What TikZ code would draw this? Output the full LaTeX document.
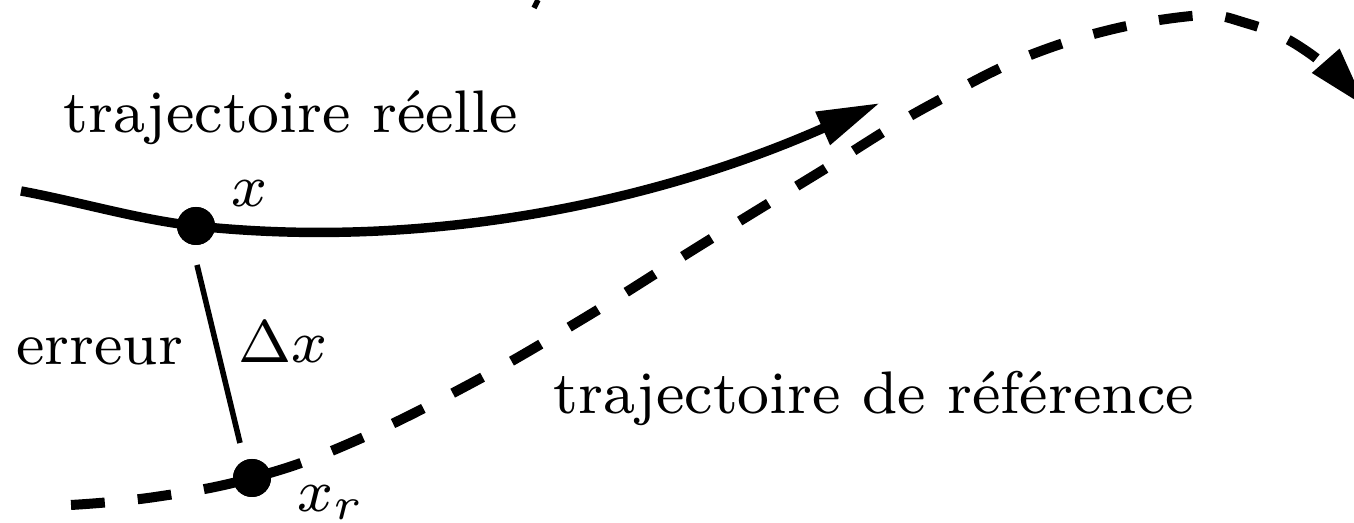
\documentclass[tikz,border=0pt]{standalone}
\usetikzlibrary{arrows.meta}
\begin{document}
\begin{tikzpicture}[x=0.18pt,y=-0.18pt,
  lbl/.style={anchor=base west,inner sep=0pt,scale=1.352,transform shape,font=\fontsize{8}{9.6}\selectfont},
  dotnode/.style={circle,fill=black,inner sep=0pt,minimum size=6.84pt},
  tipstyle/.style={-{Triangle[length=11.3pt,width=6.1pt]}},
  realcurve/.style={line width=1.7pt,line cap=butt},
  refcurve/.style={line width=1.8pt,line cap=butt,dash pattern=on 6.1pt off 5.95pt},
  errline/.style={line width=1.0pt}]
\useasboundingbox (0,0) rectangle (1354,523);
\clip (0,0) rectangle (1354,523);
% points
\node[dotnode] (px) at (196,226) {};
\node[dotnode] (pr) at (252,478) {};
\coordinate (rs) at (21,191);
\coordinate (rt) at (880,103);
% real trajectory
\draw[realcurve,tipstyle] (rs) .. controls (80,202) and (140,220) .. (px.center)
  .. controls (420,250) and (650,205) .. (rt);
% reference trajectory
\draw[refcurve,tipstyle] plot[smooth,tension=0.7] coordinates
  {(71,505) (155,497) (252,478) (348,444) (470,384) (586,317) (701,245) (815,175) (930,105) (1052,47) (1182,17) (1249,24) (1312,55) (1367,108)};
\node[dotnode] at (px) {};
\node[dotnode] at (pr) {};
% error segment
\coordinate (e1) at (197,265);
\coordinate (e2) at (240,443);
\draw[errline] (e1) -- (e2);
% small cut-off mark at the top
\coordinate (m1) at (538,0);
\coordinate (m2) at (534,8);
\draw[line width=1pt] (m1) -- (m2);
% labels
\node[lbl] (lreal) at (62,133) {trajectoire réelle};
\node[lbl] (lx) at (230,207) {$x$};
\node[lbl] (lerr) at (15,365) {erreur};
\node[lbl] (ldx) at (237,363) {$\Delta x$};
\node[lbl] (lref) at (552,414) {trajectoire de référence};
\node[lbl] (lxr) at (296,512) {$x_r$};
\end{tikzpicture}
\end{document}
